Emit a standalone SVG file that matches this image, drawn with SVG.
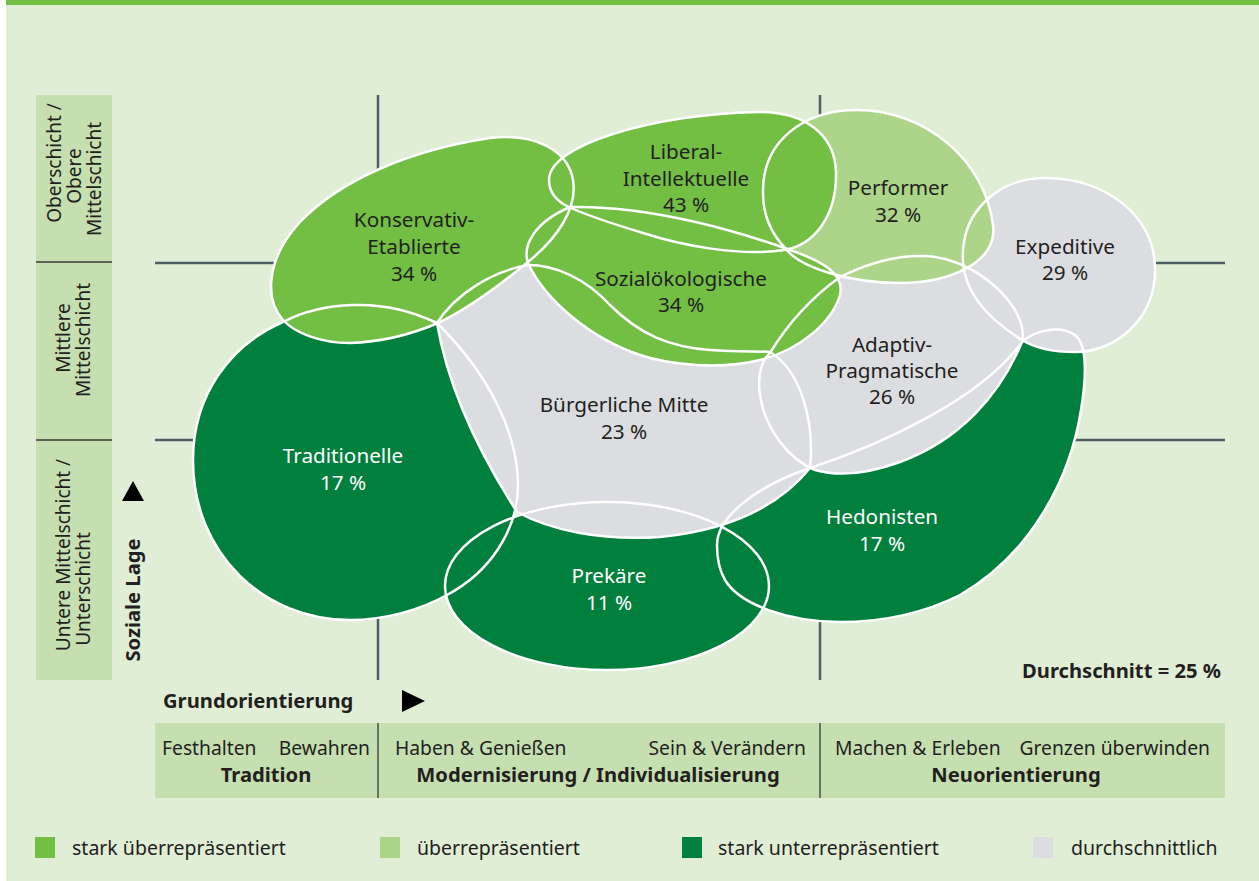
<svg xmlns="http://www.w3.org/2000/svg" width="1259" height="881" viewBox="0 0 1259 881">
<style>
text{font-family:"Noto Sans","Open Sans","Liberation Sans",sans-serif;font-size:19.3px;fill:#231f20}
.n{font-size:20.7px}
.r{font-size:19px}
.lg{font-size:19.5px}
.b{font-weight:bold;font-size:20.2px}
.w{fill:#ffffff}
.c{text-anchor:middle}
.e{text-anchor:end}
.grid{stroke:#4e5f66;stroke-width:2.5;fill:none}
.thin{stroke:#3a3a3a;stroke-width:1.3;fill:none}
.s1{fill:#72bf44}
.s2{fill:#acd58a}
.s3{fill:#007f3d}
.s4{fill:#dcdde0}
.ol{fill:none;stroke:#ffffff;stroke-width:2.5}
</style>
<defs>
<path id="pKE" d="M283,320 C265,300 265,260 300,222 C340,180 410,150 490,138 C535,133 568,150 573,180 C578,210 555,240 528,262 C500,285 470,308 438,323 C410,335 380,342 350,343 C320,343 295,333 283,320 Z"/>
<path id="pLI" d="M549,180 C549,145 650,115 757,112 C805,111 835,135 836,172 C837,215 815,245 784,250 C740,257 680,245 643,233 C610,223 580,213 565,205 C553,198 549,190 549,180 Z"/>
<path id="pPE" d="M763,193 C762,140 805,110 857,110 C925,110 985,160 993,225 C998,262 950,283 900,283 C850,283 800,268 785,248 C770,232 763,213 763,193 Z"/>
<path id="pEX" d="M963,262 C960,210 1000,178 1045,178 C1105,178 1155,215 1155,270 C1155,320 1115,352 1075,352 C1045,352 1030,345 1022,340 C990,320 965,295 963,262 Z"/>
<path id="pSO" d="M570,207 C650,205 740,232 790,250 C825,262 845,275 840,295 C832,322 800,350 760,360 C720,370 670,365 640,355 C590,338 545,300 528,263 C522,245 535,222 570,207 Z"/>
<path id="pAP" d="M840,277 C870,262 900,255 925,256 C965,258 1000,285 1015,310 C1022,322 1024,333 1022,342 C1000,395 960,440 900,462 C870,473 840,477 815,470 C790,460 765,430 760,395 C757,375 762,360 770,353 C790,320 815,295 840,277 Z"/>
<path id="pBM" d="M437,323 C455,295 490,272 528,265 C555,265 585,278 610,305 C640,335 670,347 710,350 C740,352 760,351 770,352 C800,370 815,420 810,468 C780,505 730,530 660,537 C600,541 550,530 517,512 C490,470 450,400 437,323 Z"/>
<path id="pTR" d="M283,322 C230,345 193,395 193,460 C193,555 265,620 350,620 C385,620 420,610 447,595 C490,572 518,530 518,485 C518,430 485,370 437,323 C410,310 380,304 353,305 C325,306 300,313 283,322 Z"/>
<ellipse id="pPR" cx="607" cy="586" rx="162" ry="84"/>
<path id="pHE" d="M717,545 C717,515 760,485 810,468 C880,445 980,400 1022,342 C1035,330 1060,325 1075,335 C1088,345 1086,380 1081,410 C1070,480 1030,555 960,595 C920,615 880,622 840,622 C790,622 740,605 725,580 C718,568 717,556 717,545 Z"/>
</defs>
<rect x="0" y="0" width="1259" height="881" fill="#ffffff"/>
<rect x="6" y="0" width="1253" height="881" fill="#e1eed6"/>
<rect x="6" y="0" width="1253" height="5" fill="#72bf44"/>
<g id="axes">
<rect x="36" y="95" width="76" height="585" fill="#c6dfb0"/>
<line class="thin" x1="36" y1="262" x2="112" y2="262"/>
<line class="thin" x1="36" y1="440" x2="112" y2="440"/>
<text class="c r" transform="translate(61,163) rotate(-90)">Oberschicht /</text>
<text class="c r" transform="translate(81,176) rotate(-90)">Obere</text>
<text class="c r" transform="translate(101,179) rotate(-90)">Mittelschicht</text>
<text class="c r" transform="translate(70,338) rotate(-90)">Mittlere</text>
<text class="c r" transform="translate(90,340) rotate(-90)">Mittelschicht</text>
<text class="c r" transform="translate(70,555) rotate(-90)">Untere Mittelschicht /</text>
<text class="c r" transform="translate(90,589) rotate(-90)">Unterschicht</text>
<text class="c b" transform="translate(140,600) rotate(-90)">Soziale Lage</text>
<polygon points="133,481 144,501 122,501" fill="#000000"/>
<text class="b" x="163" y="708">Grundorientierung</text>
<polygon points="402,690 425,701 402,712" fill="#000000"/>
<rect x="155" y="723" width="1070" height="75" fill="#c6dfb0"/>
<line class="thin" x1="378" y1="723" x2="378" y2="798"/>
<line class="thin" x1="820" y1="723" x2="820" y2="798"/>
<text x="162" y="755">Festhalten</text>
<text class="e" x="370" y="755">Bewahren</text>
<text x="395" y="755">Haben &amp; Genießen</text>
<text class="e" x="806" y="755">Sein &amp; Verändern</text>
<text x="835" y="755">Machen &amp; Erleben</text>
<text class="e" x="1210" y="755">Grenzen überwinden</text>
<text class="c b" x="266" y="782">Tradition</text>
<text class="c b" x="598" y="782">Modernisierung / Individualisierung</text>
<text class="c b" x="1016" y="782">Neuorientierung</text>
<text class="e b" x="1221" y="678">Durchschnitt = 25 %</text>
</g>
<g id="connectors">
<line class="grid" x1="378" y1="95" x2="378" y2="680"/>
<line class="grid" x1="820" y1="95" x2="820" y2="680"/>
<line class="grid" x1="155" y1="263" x2="1225" y2="263"/>
<line class="grid" x1="155" y1="440" x2="1225" y2="440"/>
</g>
<g id="fills">
<use href="#pTR" class="s3"/>
<use href="#pPR" class="s3"/>
<use href="#pHE" class="s3"/>
<use href="#pBM" class="s4"/>
<use href="#pAP" class="s4"/>
<use href="#pEX" class="s4"/>
<use href="#pPE" class="s2"/>
<use href="#pKE" class="s1"/>
<use href="#pSO" class="s1"/>
<use href="#pLI" class="s1"/>
</g>
<g id="outlines">
<use href="#pTR" class="ol"/>
<use href="#pPR" class="ol"/>
<use href="#pHE" class="ol"/>
<use href="#pBM" class="ol"/>
<use href="#pAP" class="ol"/>
<use href="#pEX" class="ol"/>
<use href="#pPE" class="ol"/>
<use href="#pKE" class="ol"/>
<use href="#pSO" class="ol"/>
<use href="#pLI" class="ol"/>
</g>
<g id="node-ke"><text class="c n" x="414" y="227">Konservativ-</text><text class="c n" x="414" y="254">Etablierte</text><text class="c n" x="414" y="281">34 %</text></g>
<g id="node-li"><text class="c n" x="686" y="159">Liberal-</text><text class="c n" x="686" y="186">Intellektuelle</text><text class="c n" x="686" y="212">43 %</text></g>
<g id="node-pe"><text class="c n" x="898" y="195">Performer</text><text class="c n" x="898" y="222">32 %</text></g>
<g id="node-ex"><text class="c n" x="1065" y="254">Expeditive</text><text class="c n" x="1065" y="280">29 %</text></g>
<g id="node-so"><text class="c n" x="681" y="286">Sozialökologische</text><text class="c n" x="681" y="312">34 %</text></g>
<g id="node-ap"><text class="c n" x="892" y="352">Adaptiv-</text><text class="c n" x="892" y="378">Pragmatische</text><text class="c n" x="892" y="404">26 %</text></g>
<g id="node-bm"><text class="c n" x="624" y="412">Bürgerliche Mitte</text><text class="c n" x="624" y="439">23 %</text></g>
<g id="node-tr"><text class="c n w" x="343" y="463">Traditionelle</text><text class="c n w" x="343" y="490">17 %</text></g>
<g id="node-pr"><text class="c n w" x="609" y="583">Prekäre</text><text class="c n w" x="609" y="610">11 %</text></g>
<g id="node-he"><text class="c n w" x="882" y="524">Hedonisten</text><text class="c n w" x="882" y="551">17 %</text></g>
<g id="legend">
<rect x="35" y="837" width="20" height="21" class="s1"/>
<text class="lg" x="72" y="855">stark überrepräsentiert</text>
<rect x="380" y="837" width="20" height="21" class="s2"/>
<text class="lg" x="417" y="855">überrepräsentiert</text>
<rect x="682" y="837" width="20" height="21" class="s3"/>
<text class="lg" x="718" y="855">stark unterrepräsentiert</text>
<rect x="1033" y="837" width="20" height="21" class="s4"/>
<text class="lg" x="1071" y="855">durchschnittlich</text>
</g>
</svg>
